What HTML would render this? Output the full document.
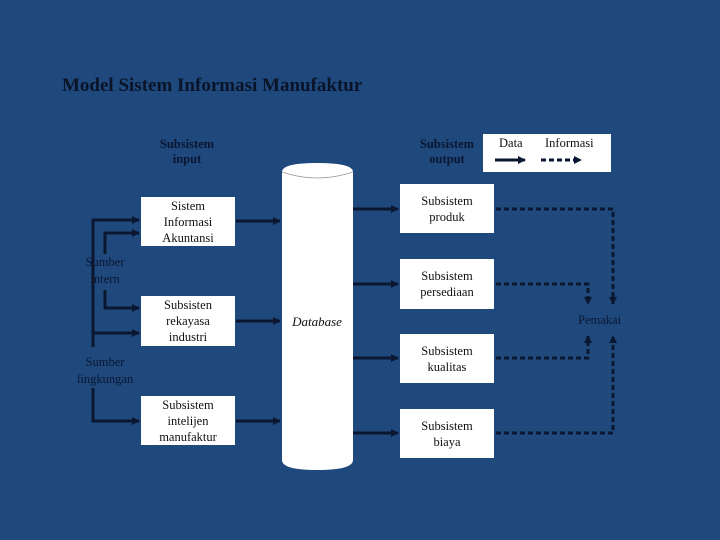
<!DOCTYPE html>
<html><head><style>
body{margin:0;width:720px;height:540px;background:#1f497d;overflow:hidden;position:relative;font-family:"Liberation Serif",serif}
.t{position:absolute;color:#0b1630}
.box{position:absolute;background:#fff;width:94px;display:flex;align-items:center;justify-content:center;text-align:center;font-size:12.5px;line-height:16px;color:#111}
</style></head><body>
<div class="t" style="left:62px;top:75px;font-size:19px;font-weight:bold;color:#0a1428">Model Sistem Informasi Manufaktur</div>
<div class="t" style="left:140px;top:137px;width:94px;text-align:center;font-size:12.5px;font-weight:bold;line-height:15px">Subsistem<br>input</div>
<div class="t" style="left:400px;top:137px;width:94px;text-align:center;font-size:12.5px;font-weight:bold;line-height:15px">Subsistem<br>output</div>
<div class="box" style="left:141px;top:197px;height:49px">Sistem<br>Informasi<br>Akuntansi</div>
<div class="box" style="left:141px;top:296px;height:50px">Subsisten<br>rekayasa<br>industri</div>
<div class="box" style="left:141px;top:396px;height:49px">Subsistem<br>intelijen<br>manufaktur</div>
<div class="box" style="left:400px;top:184px;height:49px">Subsistem<br>produk</div>
<div class="box" style="left:400px;top:259px;height:50px">Subsistem<br>persediaan</div>
<div class="box" style="left:400px;top:334px;height:49px">Subsistem<br>kualitas</div>
<div class="box" style="left:400px;top:409px;height:49px">Subsistem<br>biaya</div>
<div class="t" style="left:83px;top:254px;width:44px;text-align:center;font-size:12.5px;line-height:17px">Sumber<br>intern</div>
<div class="t" style="left:70px;top:354px;width:70px;text-align:center;font-size:12.5px;line-height:17px">Sumber<br>lingkungan</div>
<div class="t" style="left:578px;top:313px;font-size:12.5px">Pemakai</div>
<div style="position:absolute;left:483px;top:134px;width:128px;height:38px;background:#fff"></div>
<div class="t" style="left:499px;top:136px;font-size:12.5px;color:#111">Data</div>
<div class="t" style="left:545px;top:136px;font-size:12.5px;color:#111">Informasi</div>
<svg width="720" height="540" style="position:absolute;left:0;top:0">
<defs><marker id="a" markerWidth="8" markerHeight="8" refX="7" refY="4" orient="auto" markerUnits="userSpaceOnUse"><path d="M0,0L8,4L0,8z" fill="#0b1630"/></marker></defs>
<path d="M282,172 Q282,163 317,163 Q353,163 353,172 L353,460 Q353,470 317,470 Q282,470 282,460Z" fill="#fff"/>
<path d="M282,172 Q317,184 353,172" fill="none" stroke="#999" stroke-width="0.8"/>
<text x="317" y="326" text-anchor="middle" font-family="Liberation Serif" font-style="italic" font-size="13" fill="#111">Database</text>
<g stroke="#0b1630" stroke-width="3" fill="none" marker-end="url(#a)">
<path d="M236,221H280"/><path d="M236,321H280"/><path d="M236,421H280"/>
<path d="M353,209H398"/><path d="M353,284H398"/><path d="M353,358H398"/><path d="M353,433H398"/>
<path d="M93,347V220H139"/><path d="M93,333H139"/>
<path d="M93,388V421H139"/>
<path d="M105,254V233H139"/><path d="M105,290V308H139"/>
<path d="M495,160H525"/>
</g>
<g stroke="#0b1630" stroke-width="3" fill="none" stroke-dasharray="5,3" marker-end="url(#a)">
<path d="M496,209H613V304"/><path d="M496,284H588V304"/>
<path d="M496,358H588V336"/><path d="M496,433H613V336"/>
<path d="M541,160H581"/>
</g>
</svg>
</body></html>
